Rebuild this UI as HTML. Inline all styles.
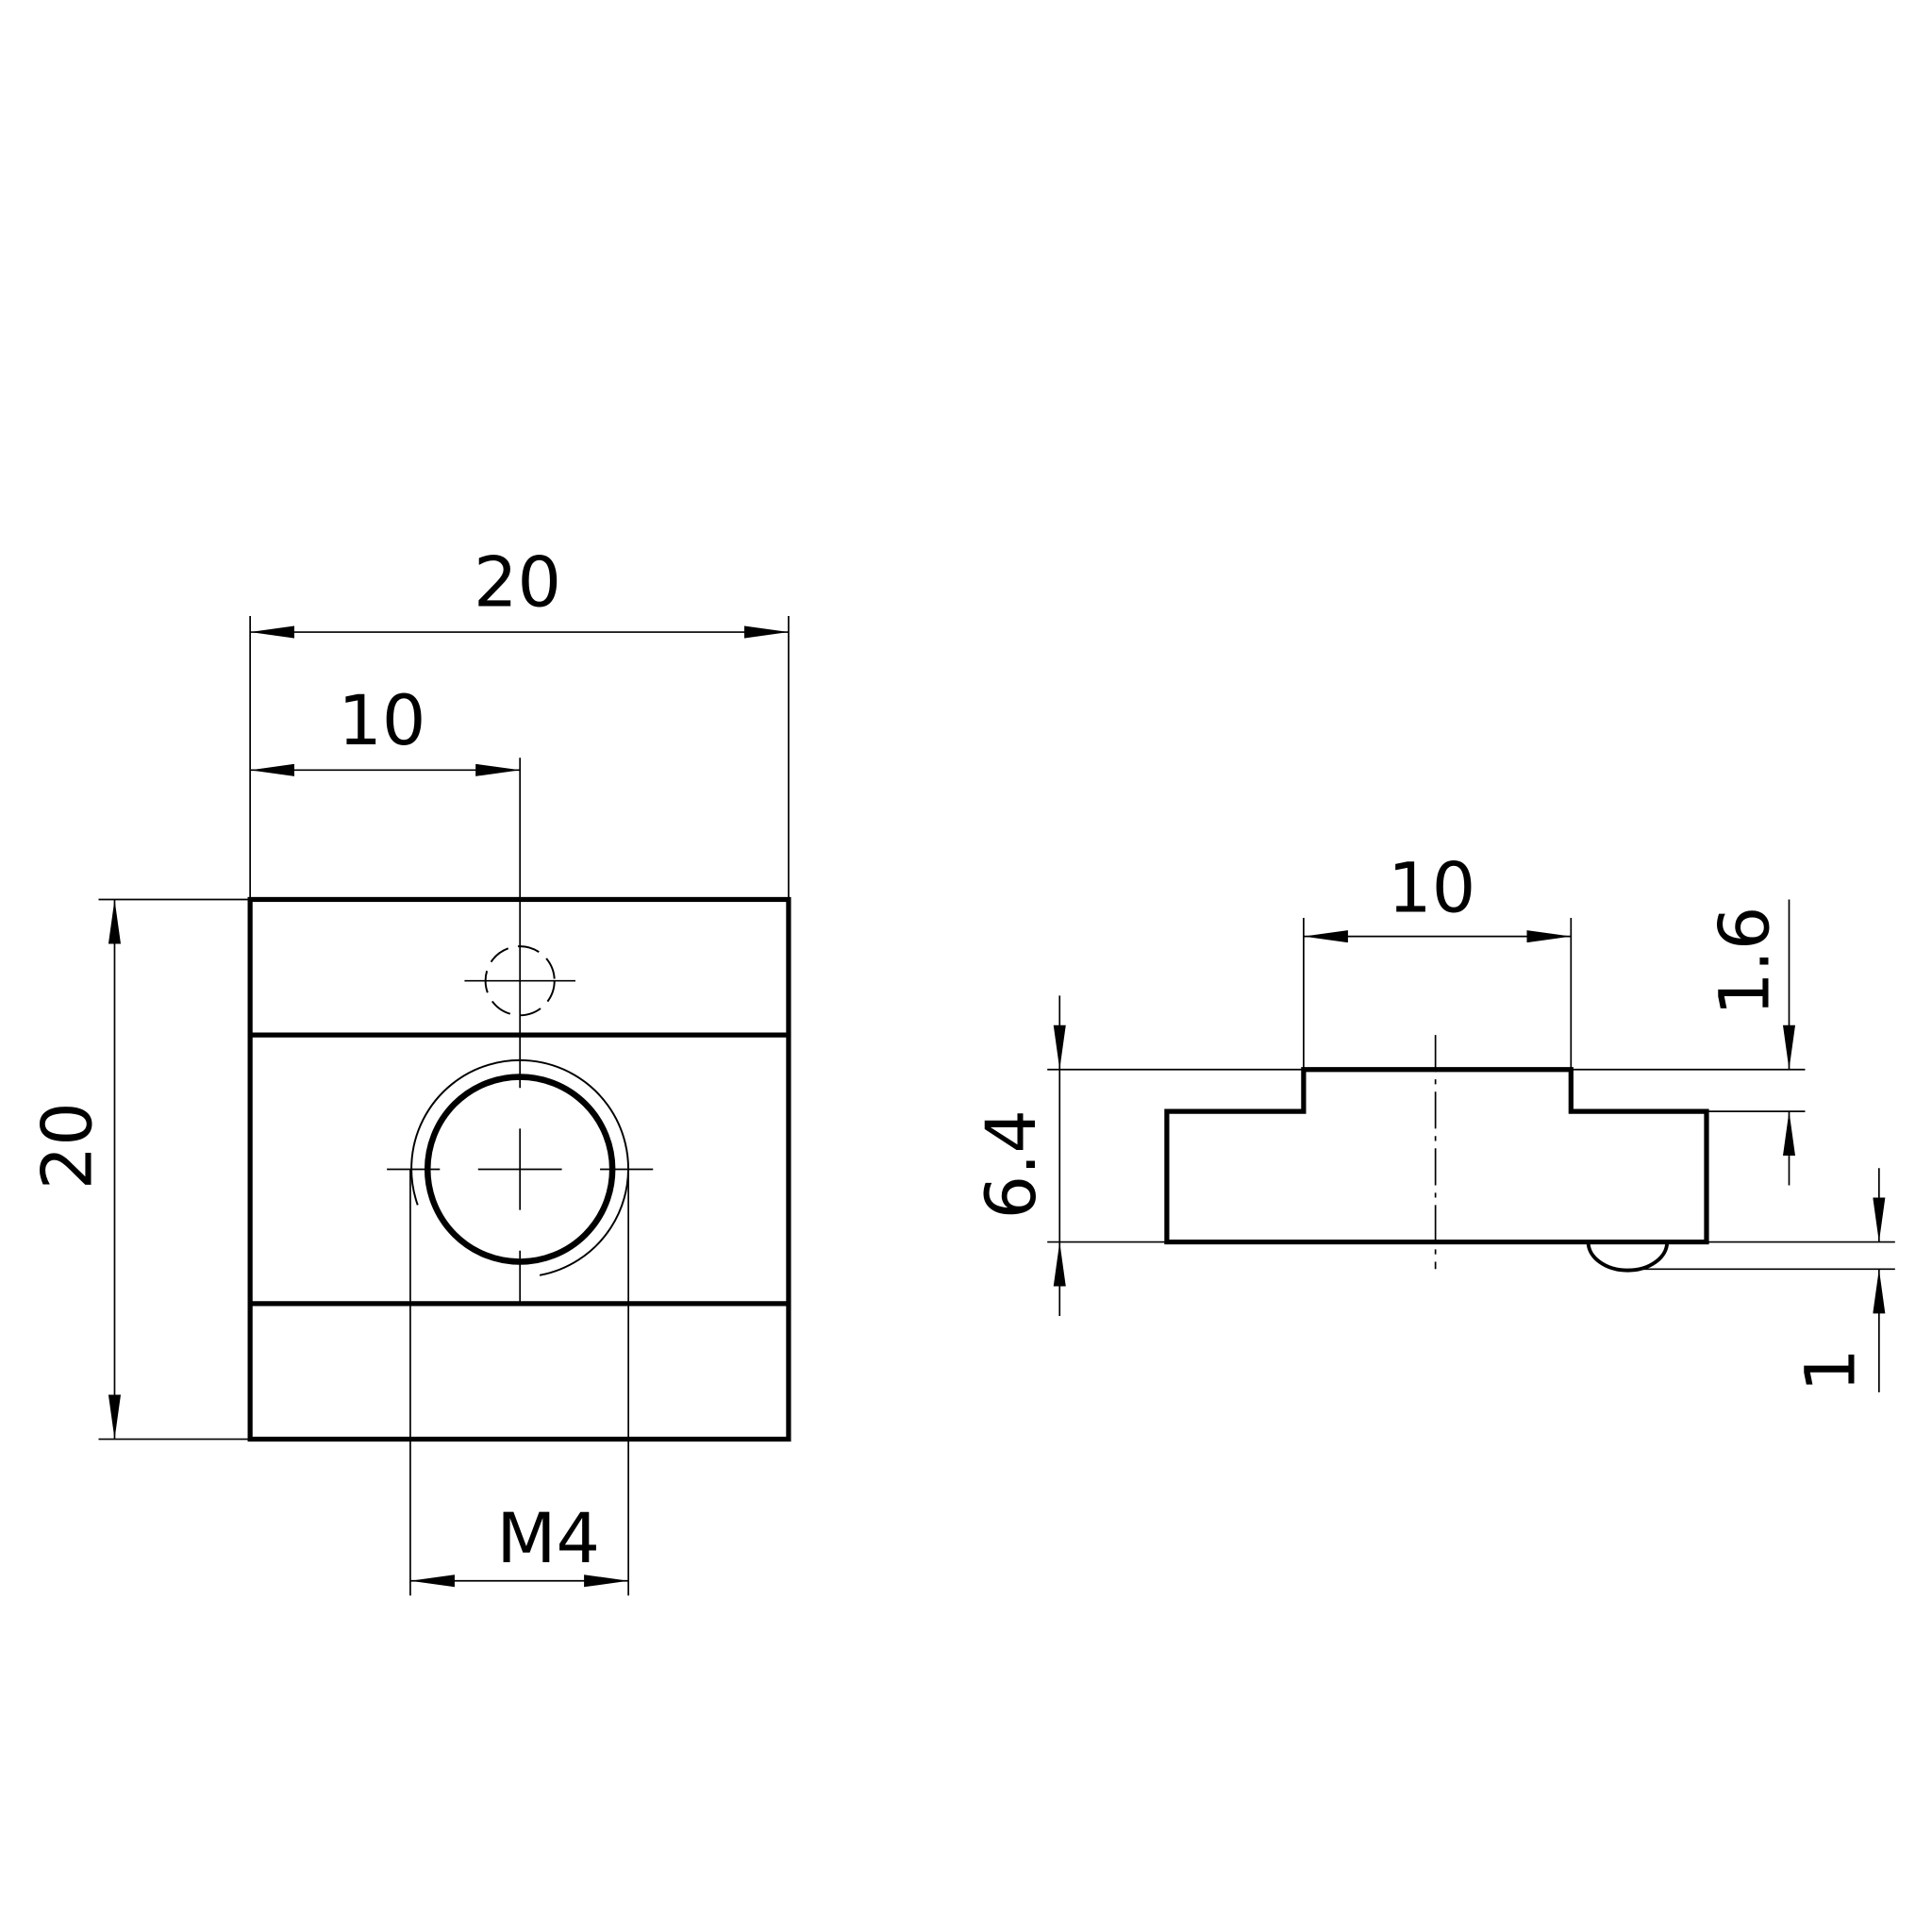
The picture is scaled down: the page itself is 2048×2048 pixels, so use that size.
<!DOCTYPE html>
<html><head><meta charset="utf-8"><style>
html,body{margin:0;padding:0;background:#fff;width:2048px;height:2048px;overflow:hidden}
svg{display:block}
text{font-family:"DejaVu Sans","Liberation Sans",sans-serif;fill:#000}
</style></head><body>
<svg width="2048" height="2048" viewBox="0 0 1568 1568" xmlns="http://www.w3.org/2000/svg">
<defs>
<marker id="a" viewBox="0 0 36 10" refX="36" refY="5" markerWidth="36" markerHeight="10" markerUnits="userSpaceOnUse" orient="auto-start-reverse">
<path d="M0,0 L36,5 L0,10 z" fill="#000"/></marker>
</defs>
<g stroke="#000" fill="none">
<!-- Left view body -->
<rect x="203" y="730" width="437" height="438" stroke-width="4"/>
<line x1="203" y1="840" x2="640" y2="840" stroke-width="4"/>
<line x1="203" y1="1058" x2="640" y2="1058" stroke-width="4"/>
<circle cx="422" cy="949" r="75" stroke-width="5"/>
<path d="M339,978 A88,88 0 1 1 438,1035" stroke-width="1.5"/>
<circle cx="422" cy="796" r="28" stroke-width="1.5" stroke-dasharray="18,8"/>
<g stroke-width="1.3">
<line x1="422" y1="615" x2="422" y2="883"/>
<line x1="422" y1="916" x2="422" y2="982"/>
<line x1="422" y1="1015" x2="422" y2="1057"/>
<line x1="377" y1="796" x2="467" y2="796"/>
<line x1="314" y1="949" x2="357" y2="949"/>
<line x1="388" y1="949" x2="456" y2="949"/>
<line x1="487" y1="949" x2="530" y2="949"/>
<!-- dims left -->
<line x1="203" y1="500" x2="203" y2="730"/>
<line x1="640" y1="500" x2="640" y2="730"/>
<line x1="203" y1="513" x2="640" y2="513" marker-start="url(#a)" marker-end="url(#a)"/>
<line x1="203" y1="625" x2="422" y2="625" marker-start="url(#a)" marker-end="url(#a)"/>
<line x1="80" y1="730" x2="203" y2="730"/>
<line x1="80" y1="1168" x2="203" y2="1168"/>
<line x1="93" y1="730" x2="93" y2="1168" marker-start="url(#a)" marker-end="url(#a)"/>
<line x1="333" y1="949" x2="333" y2="1295"/>
<line x1="510" y1="949" x2="510" y2="1295"/>
<line x1="333" y1="1283" x2="510" y2="1283" marker-start="url(#a)" marker-end="url(#a)"/>
</g>
<!-- Right view -->
<path d="M947,1008 L947,902 L1058,902 L1058,868 L1275,868 L1275,902 L1385,902 L1385,1008 Z" stroke-width="4"/>
<path d="M1289,1008 A32,23 0 0 0 1353,1008" stroke-width="3"/>
<g stroke-width="1.3">
<line x1="1165" y1="840" x2="1165" y2="1030" stroke-dasharray="30,6,4,6"/>
<line x1="1058" y1="745" x2="1058" y2="868"/>
<line x1="1275" y1="745" x2="1275" y2="868"/>
<line x1="1058" y1="760" x2="1275" y2="760" marker-start="url(#a)" marker-end="url(#a)"/>
<line x1="850" y1="868" x2="1058" y2="868"/>
<line x1="850" y1="1008" x2="947" y2="1008"/>
<line x1="860" y1="808" x2="860" y2="868" marker-end="url(#a)"/>
<line x1="860" y1="1068" x2="860" y2="1008" marker-end="url(#a)"/>
<line x1="860" y1="868" x2="860" y2="1008"/>
<line x1="1275" y1="868" x2="1465" y2="868"/>
<line x1="1385" y1="902" x2="1465" y2="902"/>
<line x1="1452" y1="730" x2="1452" y2="868" marker-end="url(#a)"/>
<line x1="1452" y1="962" x2="1452" y2="902" marker-end="url(#a)"/>
<line x1="1385" y1="1008" x2="1538" y2="1008"/>
<line x1="1322" y1="1030" x2="1538" y2="1030"/>
<line x1="1525" y1="948" x2="1525" y2="1008" marker-end="url(#a)"/>
<line x1="1525" y1="1130" x2="1525" y2="1030" marker-end="url(#a)"/>
</g>
</g>
<g font-size="56">
<text x="420" y="492" text-anchor="middle">20</text>
<text x="310" y="604" text-anchor="middle">10</text>
<text x="445" y="1268" text-anchor="middle">M4</text>
<text x="1162" y="740" text-anchor="middle">10</text>
<text transform="translate(74,930) rotate(-90)" text-anchor="middle">20</text>
<text transform="translate(840,945) rotate(-90)" text-anchor="middle">6.4</text>
<text transform="translate(1435,780) rotate(-90)" text-anchor="middle">1.6</text>
<text transform="translate(1505,1112) rotate(-90)" text-anchor="middle">1</text>
</g>
</svg>
</body></html>
